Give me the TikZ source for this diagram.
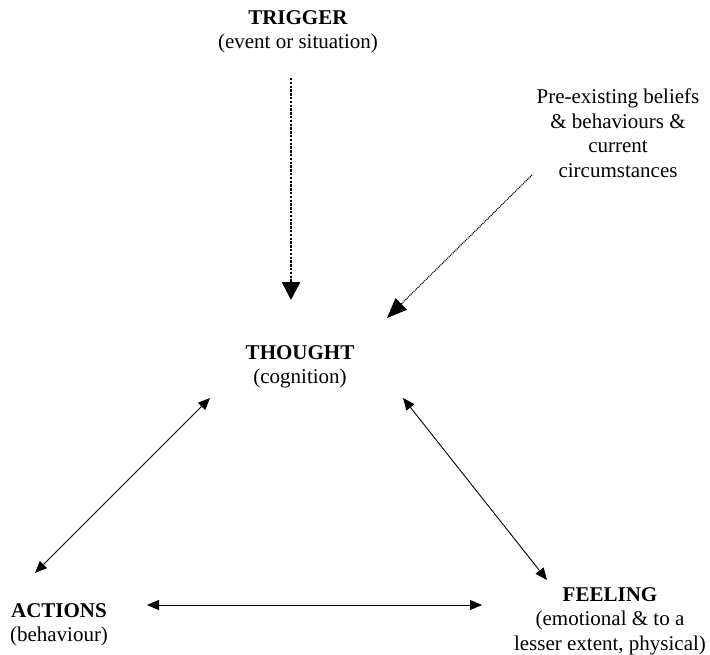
\documentclass[tikz,border=0pt]{standalone}
\usepackage{fontspec}
\setmainfont{Liberation Serif}
\usetikzlibrary{arrows.meta,calc}
\begin{document}
\begin{tikzpicture}[x=1pt,y=-1pt,
    label/.style={align=center,inner sep=0pt,font=\fontsize{21}{24.5}\selectfont},
    link/.style={{Triangle[length=12pt,width=10pt]}-{Triangle[length=12pt,width=10pt]},line width=0.9pt}]
    \useasboundingbox (0,0) rectangle (710,654);

    % What sets a thought off
    \node[label] (trigger) at (298,32) {\textbf{TRIGGER}\\(event or situation)};
    \node[label] (beliefs) at (618,133) {Pre-existing beliefs\\\& behaviours \&\\current\\circumstances};

    % The triangle
    \node[label] (thought) at (300,367) {\textbf{THOUGHT}\\(cognition)};
    \node[label] (actions) at (59,625) {\textbf{ACTIONS}\\(behaviour)};
    \node[label] (feeling) at (610,621) {\textbf{FEELING}\\(emotional \& to a\\lesser extent, physical)};

    % Dotted arrows into thought
    \draw[-{Triangle[length=18pt,width=18pt]},line width=2.4pt,dash pattern=on 2.4pt off 1.4pt]
        ($(trigger)+(-7,46)$) -- ($(thought)+(-9,-67)$);
    \draw[-{Triangle[length=20pt,width=16pt]},line width=1.2pt,dash pattern=on 1pt off 0.9pt]
        ($(beliefs)+(-86,42)$) -- ($(thought)+(87,-49)$);

    % Two-way links
    \draw[link] ($(thought)+(-90,31)$) -- ($(actions)+(-24,-52)$);
    \draw[link] ($(thought)+(103,31)$) -- ($(feeling)+(-63,-41)$);
    \draw[link] ($(actions)+(88,-20)$) -- ($(feeling)+(-128,-16)$);
\end{tikzpicture}
\end{document}
